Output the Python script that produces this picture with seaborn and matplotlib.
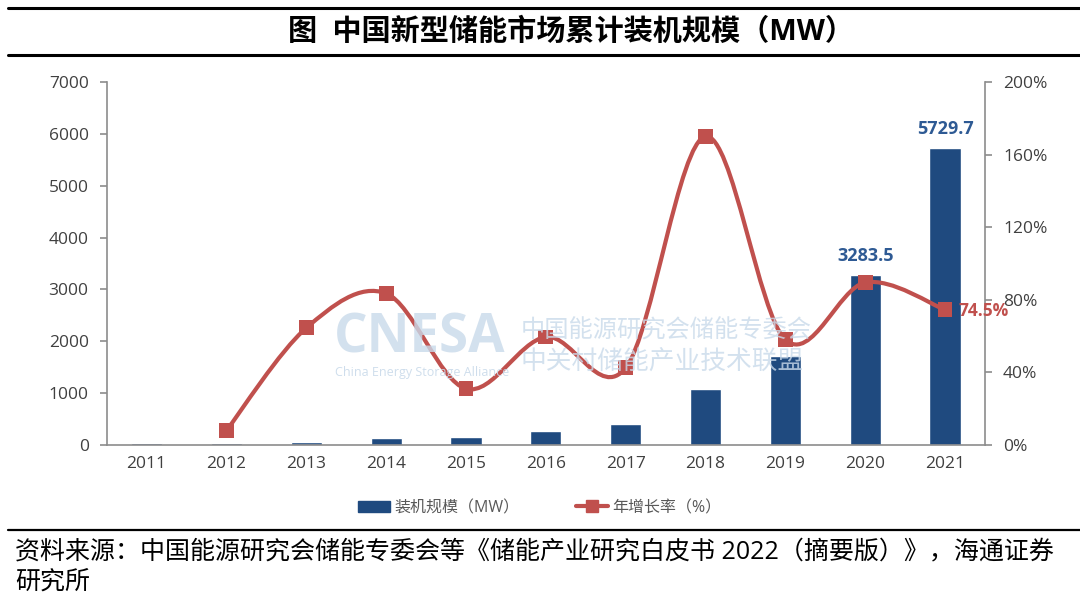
import numpy as np
import pandas as pd
import seaborn as sns
import matplotlib.pyplot as plt
from matplotlib.path import Path
from matplotlib.patches import PathPatch, Patch
from matplotlib.lines import Line2D

# dados
anos = ['2011', '2012', '2013', '2014', '2015', '2016', '2017', '2018', '2019', '2020', '2021']
capacidade = [30, 33, 65, 131, 163, 261, 405, 1074, 1710, 3283.5, 5729.7]
crescimento = [np.nan, 8.0, 64.5, 83.5, 31.0, 59.5, 42.5, 170.0, 58.0, 89.5, 74.5]
ticks_esq = [0, 1000, 2000, 3000, 4000, 5000, 6000, 7000]
ticks_dir = [0, 40, 80, 120, 160, 200]

titulo = '图  中国新型储能市场累计装机规模（MW）'
fonte = ['资料来源：中国能源研究会储能专委会等《储能产业研究白皮书 2022（摘要版）》，海通证券',
         '研究所']

AZUL = '#1F4A7F'
VERMELHO = '#C0504D'
CINZA = '#8C8C8C'
TEXTO = '#404040'

sns.set_style('white')
plt.rcParams['font.family'] = ['Open Sans', 'Noto Sans CJK SC', 'DejaVu Sans']


def curva_suave(xs, ys):
    """Curva suavizada (tipo Excel) passando pelos pontos."""
    P = np.column_stack([xs, ys])
    verts = [P[0]]
    codes = [Path.MOVETO]
    n = len(P)
    for i in range(n - 1):
        p0 = P[i - 1] if i > 0 else P[i]
        p3 = P[i + 2] if i + 2 < n else P[i + 1]
        c1 = P[i] + (P[i + 1] - p0) / 6
        c2 = P[i + 1] - (p3 - P[i]) / 6
        verts += [c1, c2, P[i + 1]]
        codes += [Path.CURVE4] * 3
    return Path(verts, codes)


df = pd.DataFrame({'ano': anos, 'capacidade': capacidade, 'crescimento': crescimento})

fig = plt.figure(figsize=(10.8, 6.02), dpi=100)
ax = fig.add_axes([0.0988, 0.2608, 0.8132, 0.6030])

sns.barplot(data=df, x='ano', y='capacidade', color=AZUL, saturation=1,
            width=0.39, ax=ax, zorder=2)
ax.set_xlim(-0.5, len(anos) - 0.5)
ax.set_ylim(0, 7000)
ax.set_yticks(ticks_esq)
ax.set_xlabel('')
ax.set_ylabel('')

# ticks do eixo x entre as categorias
ax.set_xticks(np.arange(-0.5, len(anos)), labels=[''] * (len(anos) + 1))
ax.set_xticks(range(len(anos)), labels=anos, minor=True)
ax.tick_params(axis='x', which='major', length=5, color=CINZA, width=1.2)
ax.tick_params(axis='x', which='minor', length=0, labelsize=12.5, labelcolor=TEXTO, pad=8)
ax.tick_params(axis='y', length=5, color=CINZA, width=1.2, labelsize=12.5, labelcolor=TEXTO, pad=8)

for lado in ['top', 'right']:
    ax.spines[lado].set_visible(False)
for lado in ['left', 'bottom']:
    ax.spines[lado].set_color(CINZA)
    ax.spines[lado].set_linewidth(1.2)

# rótulos das barras
for i in [9, 10]:
    ax.annotate(f'{capacidade[i]:.1f}', (i, capacidade[i]), xytext=(0, 7),
                textcoords='offset points', ha='center', va='bottom',
                color='#2E5A94', fontsize=13, fontweight='bold')

# eixo da direita: crescimento
ax2 = ax.twinx()
ax2.set_ylim(0, 200)
ax2.set_yticks(ticks_dir, labels=[f'{t}%' for t in ticks_dir])
ax2.tick_params(axis='y', length=5, color=CINZA, width=1.2, labelsize=12.5, labelcolor=TEXTO, pad=8)
for lado in ['top', 'left', 'bottom']:
    ax2.spines[lado].set_visible(False)
ax2.spines['right'].set_color(CINZA)
ax2.spines['right'].set_linewidth(1.2)

linha = df.dropna()
xs = linha.index.values.astype(float)
ys = linha['crescimento'].values
ax2.add_patch(PathPatch(curva_suave(xs, ys), facecolor='none', edgecolor=VERMELHO,
                        lw=3, zorder=3, capstyle='round'))
sns.scatterplot(x=xs, y=ys, marker='s', s=115, color=VERMELHO, edgecolor='none',
                ax=ax2, zorder=4, legend=False)
ax2.set_xlim(-0.5, len(anos) - 0.5)
ax2.annotate(f'{crescimento[-1]}%', (10, crescimento[-1]), xytext=(10, -1),
             textcoords='offset points', ha='left', va='center',
             color=VERMELHO, fontsize=12.5, fontweight='bold', zorder=5)

# marca d'água
marca = '#C9DAEA'
fig.text(0.309, 0.437, 'CNESA', fontsize=38, fontweight='bold', color=marca, alpha=0.8,
         ha='left', va='center', zorder=10)
fig.text(0.31, 0.381, 'China Energy Storage Alliance', fontsize=9, color=marca, alpha=0.9,
         ha='left', va='center', zorder=10)
fig.text(0.482, 0.449, '中国能源研究会储能专委会', fontsize=17.5, color=marca, alpha=0.8,
         ha='left', va='center', zorder=10)
fig.text(0.482, 0.397, '中关村储能产业技术联盟', fontsize=18.5, color=marca, alpha=0.8,
         ha='left', va='center', zorder=10)

# legenda
handles = [Patch(color=AZUL),
           Line2D([], [], color=VERMELHO, lw=3, marker='s', markersize=9)]
leg = fig.legend(handles, ['装机规模（MW）', '年增长率（%）'], loc='center',
                 bbox_to_anchor=(0.5, 0.156), ncol=2, frameon=False, fontsize=11.5,
                 handlelength=2.0, handletextpad=0.3, columnspacing=3.5)
for t in leg.get_texts():
    t.set_color('#595959')

# título e fonte
fig.text(0.529, 0.946, titulo, ha='center', va='center', fontsize=21, fontweight='bold',
         color='black')
for y, lw in [(0.9867, 2.2), (0.9086, 2.2), (0.1196, 1.6)]:
    fig.add_artist(Line2D([0.007, 1.0], [y, y], transform=fig.transFigure, color='black', lw=lw))
fig.text(0.014, 0.083, fonte[0], ha='left', va='center', fontsize=18, color='black')
fig.text(0.014, 0.033, fonte[1], ha='left', va='center', fontsize=18, color='black')

fig.savefig('out.png', dpi=100)
